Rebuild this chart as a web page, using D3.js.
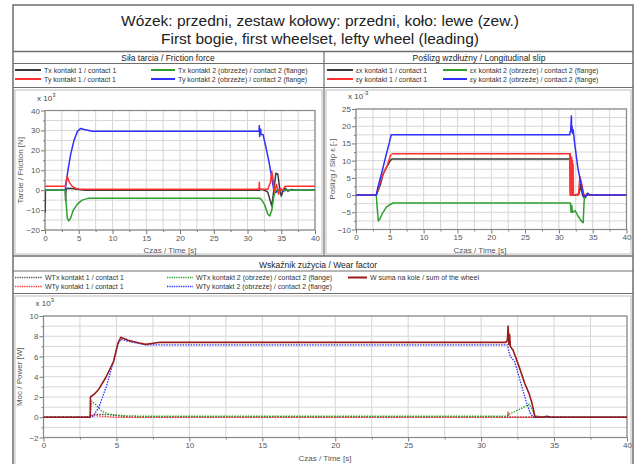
<!DOCTYPE html>
<html>
<head>
<meta charset="utf-8">
<script src="https://cdn.jsdelivr.net/npm/d3@7"></script>
<style>
  body { margin: 0; background: #fff; }
  svg { font-family: "Liberation Sans", Arial, sans-serif; }
  .tick text { fill: #555; font-size: 8px; }
  .tick line { stroke: #777; }
  .domain { stroke: none; }
</style>
</head>
<body>
<svg width="641" height="464"></svg>
<script>
// ---- dane / data ----
const timeTicks = [0, 5, 10, 15, 20, 25, 30, 35, 40];
const frictionTicks = [-20, -10, 0, 10, 20, 30, 40];
const slipTicks = [-10, -5, 0, 5, 10, 15, 20, 25];
const wearTicks = [-2, 0, 2, 4, 6, 8, 10];

// sila tarcia [x10^3 N], pary [czas, wartosc]
const txContact1 = [[0,0],[0.03,-11],[0.06,0],[3,0],[3.05,-5],[3.1,0],[3.3,1],[4,0.8],[5,0.3],[6,0],[31.8,0],[32,0.5],[32.5,0],[33,-1],[33.6,-8],[33.9,0],[34.2,8.5],[34.5,8],[34.8,0],[35,-3],[35.3,0],[35.6,1],[36,-0.5],[36.5,0.3],[37,0],[40,0]];
const tyContact1 = [[0,2],[3,2],[3.1,4],[3.3,7],[3.6,4],[4,2],[4.5,1],[5,0.6],[6,0.4],[31.7,0.4],[31.75,4],[31.8,0.4],[33,0.4],[33.4,4],[33.6,9.5],[33.8,5],[34,-1],[34.3,3],[34.6,-2],[34.9,1],[35.2,0],[35.6,2],[40,2]];
const txContact2 = [[0,0],[3,0],[3.1,-5],[3.3,-14],[3.5,-15.5],[3.8,-14],[4.2,-10],[4.8,-7],[5.5,-5],[6.5,-4],[31.8,-4],[32,-4.5],[32.5,-7],[33,-12],[33.3,-13],[33.6,-10],[33.9,-3],[34.2,0],[40,0]];
const tyContact2 = [[0,0],[3,0],[3.2,5],[3.4,10],[3.8,18],[4.3,25],[4.8,29.5],[5.3,31],[5.8,30.5],[7,29.6],[31.7,29.6],[31.75,32.5],[31.8,27],[31.85,31],[31.9,28],[31.95,30.5],[32,28],[32.3,28],[32.7,22],[33.2,14],[33.6,6],[33.9,0],[34.3,-1],[34.7,0.5],[35.2,-0.5],[35.7,0],[40,0]];

// poslizg [x10^-3]
const exContact1 = [[0,0],[3,0],[3.2,1],[3.6,3],[4,6],[4.5,8],[5,9.8],[5.3,10.5],[31.7,10.5],[31.75,0],[32.5,0],[33,0.5],[33.2,3],[33.5,0],[33.8,-1],[34.2,0.5],[34.5,0],[40,0]];
const eyContact1 = [[0,0],[3,0],[3.3,2],[3.8,5],[4.2,7],[4.6,8.5],[5.1,11.5],[5.4,12],[31.6,12],[31.65,0],[31.7,12],[31.75,0],[31.8,11],[31.85,0],[31.9,11],[31.95,0],[32,10],[32.05,0],[32.1,9],[32.15,0],[32.3,0],[32.9,0],[33.1,5.5],[33.4,3],[33.7,0],[34.2,0],[40,0]];
const exContact2 = [[0,0],[3,0],[3.1,-3],[3.3,-7.5],[3.5,-7],[4,-5],[4.5,-3.5],[5,-2.8],[5.5,-2.3],[31.7,-2.3],[31.8,-5],[31.9,-3],[32,-5],[32.4,-4.5],[32.8,-6],[33.3,-7.5],[33.6,-8],[33.7,-3],[33.8,0],[40,0]];
const eyContact2 = [[0,0],[3,0],[3.2,2],[3.6,5],[4,8],[4.5,12],[4.9,15],[5.2,17.5],[6,17.5],[31.6,17.5],[31.75,19],[31.85,23],[31.9,18.5],[31.95,20],[32,18],[32.1,19],[32.4,14],[32.8,8],[33.2,4],[33.6,0],[34,-0.5],[34.3,0.5],[34.6,0],[40,0]];

// wskaznik zuzycia [x10^3 W]
const wtxContact1 = [[0,0],[3.2,0],[3.5,0.3],[4.5,0.25],[5.5,0.1],[6,0],[33.5,0],[33.8,0.1],[34.5,0],[40,0]];
const wtyContact1 = [[0,0],[3.2,0],[3.3,0.2],[4,0.1],[5,0],[31.8,0],[31.85,0.5],[31.9,0],[40,0]];
const wtxContact2 = [[0,0],[3.2,0],[3.3,1.6],[3.6,1.2],[4,0.6],[4.5,0.3],[5.5,0.15],[7,0.1],[31.8,0.1],[31.9,0.3],[32.2,0.5],[32.8,0.9],[33.3,1.3],[33.5,0.8],[33.7,0],[40,0]];
const wtyContact2 = [[0,0],[3.2,0],[3.4,0.1],[3.8,1],[4.3,3],[4.8,5.5],[5.1,7.2],[5.3,7.7],[5.8,7.5],[7,7.15],[31.8,7.15],[31.9,6.5],[32,6],[32.3,5.5],[32.7,3.5],[33.1,1.5],[33.4,0.3],[33.6,0],[40,0]];
const wheelSum = [[0,0],[3.2,0],[3.22,2],[3.5,2.3],[3.8,2.8],[4.3,4],[4.8,5.5],[5.1,7.3],[5.3,7.9],[5.8,7.6],[6.5,7.35],[7,7.2],[8,7.4],[31.7,7.4],[31.8,7.6],[31.85,9],[31.9,7.2],[31.95,8.2],[32,7],[32.2,6.6],[32.6,5],[33,3.3],[33.3,2.3],[33.5,1.3],[33.7,0],[34.2,0],[34.5,0.1],[34.8,0],[40,0]];

const frictionLabels = ['Tx kontakt 1 / contact 1', 'Ty kontakt 1 / contact 1', 'Tx kontakt 2 (obrzeże) / contact 2 (flange)', 'Ty kontakt 2  (obrzeże) / contact 2 (flange)'];
const slipLabels = ['εx kontakt 1 / contact 1', 'εy kontakt 1 / contact 1', 'εx kontakt 2  (obrzeże) / contact 2 (flange)', 'εy kontakt 2  (obrzeże) / contact 2 (flange)'];
const wearLabels = ['WTx  kontakt 1 / contact 1', 'WTy  kontakt 1 / contact 1', 'WTx kontakt 2 (obrzeże) / contact 2 (flange)', 'WTy kontakt 2  (obrzeże) / contact 2 (flange)', 'W suma na kole / sum of the wheel'];

const cBlack = '#3a3a3a', cRed = '#ff3030', cGreen = '#2ea02e', cBlue = '#2f2fff', cDark = '#9a1b1b';

const svg = d3.select('svg');
const border = '#6e6e6e';

// ramka glowna
svg.append('rect').attr('x', 13).attr('y', 5).attr('width', 620).attr('height', 475)
  .attr('fill', 'none').attr('stroke', border).attr('stroke-width', 1.5);

const hline = (x1, x2, y, w = 1.2) => svg.append('line')
  .attr('x1', x1).attr('x2', x2).attr('y1', y).attr('y2', y)
  .attr('stroke', border).attr('stroke-width', w);
const vline = (x, y1, y2, w = 1.2) => svg.append('line')
  .attr('x1', x).attr('x2', x).attr('y1', y1).attr('y2', y2)
  .attr('stroke', border).attr('stroke-width', w);

hline(13, 633, 51.5, 1.5);
vline(324, 51.5, 256);
hline(13, 633, 63.5);
hline(13, 633, 87.5);
hline(13, 633, 256, 1.5);
hline(13, 633, 271);
hline(13, 633, 293.5);
// wewnetrzne ramki pol wykresow
svg.append('rect').attr('x', 15).attr('y', 90).attr('width', 307).attr('height', 164).attr('fill', 'none').attr('stroke', '#bbb');
svg.append('rect').attr('x', 326).attr('y', 90).attr('width', 305).attr('height', 164).attr('fill', 'none').attr('stroke', '#bbb');
svg.append('rect').attr('x', 15).attr('y', 296).attr('width', 616).attr('height', 180).attr('fill', 'none').attr('stroke', '#bbb');

// tytul
const title = svg.append('g').attr('text-anchor', 'middle').attr('fill', '#222').style('font-size', '15.5px');
title.append('text').attr('x', 320).attr('y', 26).text('Wózek: przedni, zestaw kołowy: przedni, koło: lewe (zew.)');
title.append('text').attr('x', 320).attr('y', 44).text('First bogie, first wheelset, lefty wheel (leading)');

const header = (x, y, t) => svg.append('text').attr('x', x).attr('y', y)
  .attr('text-anchor', 'middle').style('font-size', '8.5px').attr('fill', '#222').text(t);
header(168, 61, 'Siła tarcia / Friction force');
header(479, 61, 'Poślizg wzdłużny / Longitudinal slip');
header(318, 268, 'Wskaźnik zużycia / Wear factor');

const legendItem = (x, y, lineW, color, dashed, label) => {
  svg.append('line').attr('x1', x).attr('x2', x + lineW).attr('y1', y).attr('y2', y)
    .attr('stroke', color).attr('stroke-width', dashed ? 1.3 : 2)
    .attr('stroke-dasharray', dashed ? '1.3,1' : null);
  svg.append('text').attr('x', x + lineW + 3).attr('y', y + 2.5)
    .style('font-size', '7px').attr('fill', '#333').text(label);
};

legendItem(15, 70, 26, cBlack, false, frictionLabels[0]);
legendItem(15, 79, 26, cRed, false, frictionLabels[1]);
legendItem(151, 70, 24, cGreen, false, frictionLabels[2]);
legendItem(151, 79, 24, cBlue, false, frictionLabels[3]);

legendItem(327, 70, 26, cBlack, false, slipLabels[0]);
legendItem(327, 79, 26, cRed, false, slipLabels[1]);
legendItem(443, 70, 24, cGreen, false, slipLabels[2]);
legendItem(443, 79, 24, cBlue, false, slipLabels[3]);

legendItem(15, 277.5, 27, '#555', true, wearLabels[0]);
legendItem(15, 286.5, 27, cRed, true, wearLabels[1]);
legendItem(167, 277.5, 26, cGreen, true, wearLabels[2]);
legendItem(167, 286.5, 26, cBlue, true, wearLabels[3]);
legendItem(348, 277.5, 19, cDark, false, wearLabels[4]);

// pojedynczy wykres
let clipId = 0;
const drawPlot = (opts) => {
  const { x0, x1, yTop, yBottom, yTicks, exponent, yLabel, yLabelX, xLabelX, xLabelY, series } = opts;
  const x = d3.scaleLinear().domain([0, 40]).range([x0, x1]);
  const y = d3.scaleLinear().domain([yTicks[0], yTicks[yTicks.length - 1]]).range([yBottom, yTop]);
  const yStep = yTicks[1] - yTicks[0];
  const g = svg.append('g');

  // siatka
  const vGrid = d3.range(0, 40.01, 2.5);
  const hGrid = d3.range(yTicks[0], yTicks[yTicks.length - 1] + 1e-6, yStep / 2);
  g.selectAll('.vg').data(vGrid).join('line')
    .attr('x1', x).attr('x2', x).attr('y1', yTop).attr('y2', yBottom)
    .attr('stroke', '#d6d6d6').attr('stroke-width', 1);
  g.selectAll('.hg').data(hGrid).join('line')
    .attr('y1', y).attr('y2', y).attr('x1', x0).attr('x2', x1)
    .attr('stroke', '#d6d6d6').attr('stroke-width', 1);

  // osie
  g.append('g').attr('transform', `translate(0,${yBottom})`)
    .call(d3.axisBottom(x).tickValues(vGrid.filter(v => v % 5 !== 0)).tickSize(2).tickFormat(''));
  g.append('g').attr('transform', `translate(0,${yBottom})`)
    .call(d3.axisBottom(x).tickValues(timeTicks).tickSize(4).tickPadding(1));
  g.append('g').attr('transform', `translate(${x0},0)`)
    .call(d3.axisLeft(y).tickValues(hGrid.filter((v, i) => i % 2 === 1)).tickSize(2).tickFormat(''));
  g.append('g').attr('transform', `translate(${x0},0)`)
    .call(d3.axisLeft(y).tickValues(yTicks).tickSize(4).tickPadding(1));

  g.append('rect').attr('x', x0).attr('y', yTop).attr('width', x1 - x0).attr('height', yBottom - yTop)
    .attr('fill', 'none').attr('stroke', '#888').attr('stroke-width', 1.2);

  // serie
  const id = 'clip' + (clipId++);
  g.append('clipPath').attr('id', id).append('rect')
    .attr('x', x0).attr('y', yTop).attr('width', x1 - x0).attr('height', yBottom - yTop);
  const line = d3.line().x(d => x(d[0])).y(d => y(d[1]));
  g.append('g').attr('clip-path', `url(#${id})`)
    .selectAll('path').data(series).join('path')
    .attr('d', s => line(s.data))
    .attr('fill', 'none')
    .attr('stroke', s => s.color)
    .attr('stroke-width', s => s.width || 1.5)
    .attr('stroke-dasharray', s => s.dash || null)
    .attr('stroke-linejoin', 'round');

  // opisy
  const ex = g.append('text').attr('x', x0 - 8).attr('y', yTop - 10).style('font-size', '8px').attr('fill', '#444');
  ex.append('tspan').text('x 10');
  ex.append('tspan').attr('dy', -4).style('font-size', '6px').text(exponent);

  g.append('text').attr('transform', `translate(${yLabelX},${(yTop + yBottom) / 2}) rotate(-90)`)
    .attr('text-anchor', 'middle').style('font-size', '8px').attr('fill', '#555').text(yLabel);
  g.append('text').attr('x', xLabelX).attr('y', xLabelY).attr('text-anchor', 'middle')
    .style('font-size', '8px').attr('fill', '#555').text('Czas / Time [s]');
};

drawPlot({
  x0: 45, x1: 315, yTop: 110.5, yBottom: 230, yTicks: frictionTicks, exponent: '3',
  yLabel: 'Tarcie / Friction [N]', yLabelX: 23, xLabelX: 170, xLabelY: 253,
  series: [
    { data: txContact1, color: cBlack },
    { data: tyContact2, color: cBlue },
    { data: txContact2, color: cGreen },
    { data: tyContact1, color: cRed }
  ]
});

drawPlot({
  x0: 356, x1: 626.5, yTop: 109, yBottom: 229.5, yTicks: slipTicks, exponent: '-3',
  yLabel: 'Poślizg / Slip ε [-]', yLabelX: 335, xLabelX: 480, xLabelY: 253,
  series: [
    { data: exContact1, color: cBlack },
    { data: exContact2, color: cGreen },
    { data: eyContact1, color: cRed },
    { data: eyContact2, color: cBlue }
  ]
});

drawPlot({
  x0: 43.5, x1: 627, yTop: 316, yBottom: 437.5, yTicks: wearTicks, exponent: '3',
  yLabel: 'Moc / Power  [W]', yLabelX: 22, xLabelX: 325, xLabelY: 461,
  series: [
    { data: wtxContact1, color: '#444', dash: '1.5,1.2', width: 1.3 },
    { data: wtyContact1, color: cRed, dash: '1.5,1.2', width: 1.3 },
    { data: wtxContact2, color: cGreen, dash: '1.5,1.2', width: 1.3 },
    { data: wtyContact2, color: cBlue, dash: '1.5,1.2', width: 1.3 },
    { data: wheelSum, color: cDark, width: 1.6 }
  ]
});
</script>
</body>
</html>
